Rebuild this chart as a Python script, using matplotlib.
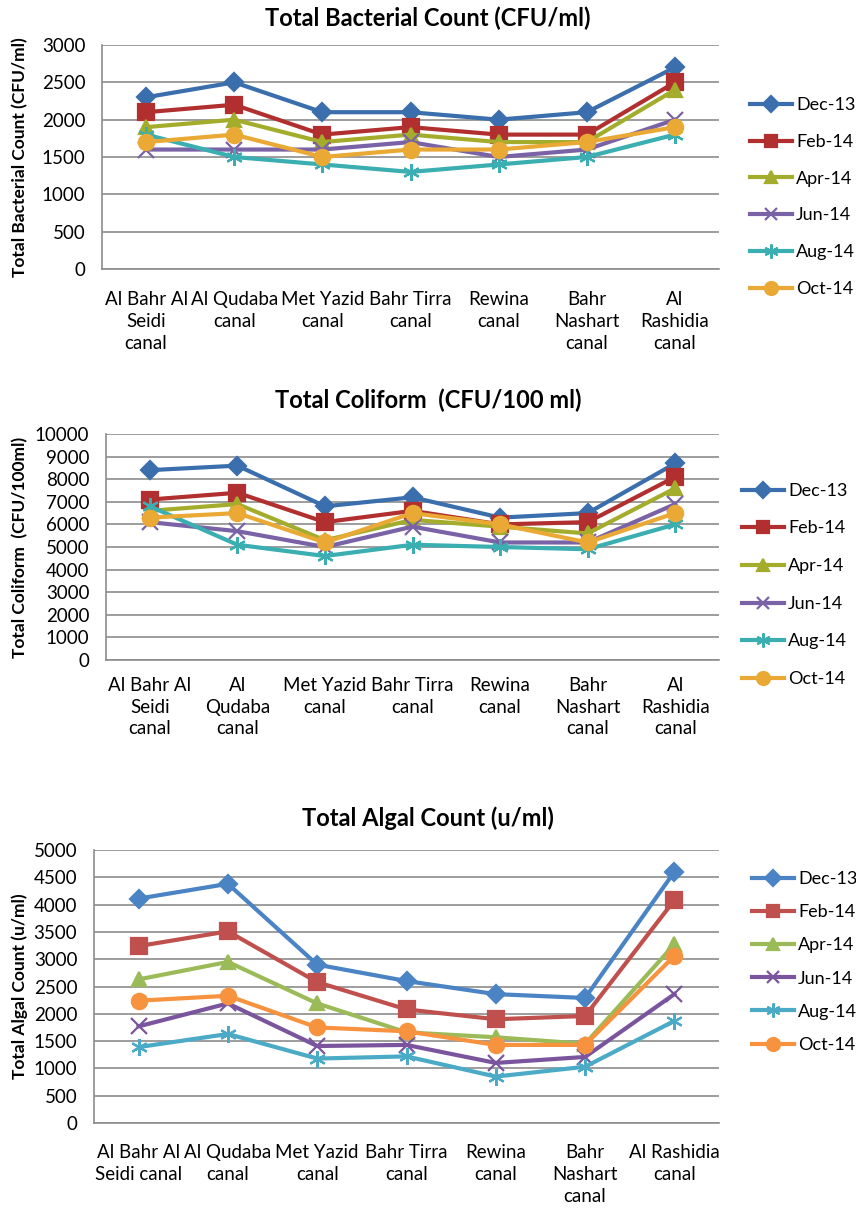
import matplotlib
matplotlib.use("Agg")
import matplotlib.pyplot as plt

plt.rcParams['font.family'] = ['Lato', 'DejaVu Sans']

months = ['Dec-13', 'Feb-14', 'Apr-14', 'Jun-14', 'Aug-14', 'Oct-14']

# canal names, wrapped differently in each chart
canals_bact = ['Al Bahr Al\nSeidi\ncanal', 'Al Qudaba\ncanal', 'Met Yazid\ncanal', 'Bahr Tirra\ncanal',
               'Rewina\ncanal', 'Bahr\nNashart\ncanal', 'Al\nRashidia\ncanal']
canals_coli = ['Al Bahr Al\nSeidi\ncanal', 'Al\nQudaba\ncanal', 'Met Yazid\ncanal', 'Bahr Tirra\ncanal',
               'Rewina\ncanal', 'Bahr\nNashart\ncanal', 'Al\nRashidia\ncanal']
canals_alg = ['Al Bahr Al\nSeidi canal', 'Al Qudaba\ncanal', 'Met Yazid\ncanal', 'Bahr Tirra\ncanal',
              'Rewina\ncanal', 'Bahr\nNashart\ncanal', 'Al Rashidia\ncanal']

# Total bacterial count (CFU/ml)
bact_dec13 = [2300, 2500, 2100, 2100, 2000, 2100, 2700]
bact_feb14 = [2100, 2200, 1800, 1900, 1800, 1800, 2500]
bact_apr14 = [1900, 2000, 1700, 1800, 1700, 1700, 2400]
bact_jun14 = [1600, 1600, 1600, 1700, 1500, 1600, 2000]
bact_aug14 = [1800, 1500, 1400, 1300, 1400, 1500, 1800]
bact_oct14 = [1700, 1800, 1500, 1600, 1600, 1700, 1900]

# Total coliform (CFU/100 ml)
coli_dec13 = [8400, 8600, 6800, 7200, 6300, 6500, 8700]
coli_feb14 = [7100, 7400, 6100, 6600, 6000, 6100, 8100]
coli_apr14 = [6600, 6900, 5300, 6200, 5900, 5600, 7600]
coli_jun14 = [6100, 5700, 5000, 5900, 5200, 5200, 6900]
coli_aug14 = [6800, 5100, 4600, 5100, 5000, 4900, 6000]
coli_oct14 = [6300, 6500, 5200, 6500, 6000, 5200, 6500]

# Total algal count (u/ml)
alg_dec13 = [4110, 4380, 2900, 2600, 2360, 2290, 4600]
alg_feb14 = [3240, 3510, 2580, 2080, 1900, 1960, 4080]
alg_apr14 = [2630, 2950, 2190, 1660, 1570, 1450, 3270]
alg_jun14 = [1770, 2190, 1410, 1430, 1100, 1210, 2360]
alg_aug14 = [1390, 1630, 1180, 1220, 850, 1030, 1870]
alg_oct14 = [2240, 2330, 1750, 1680, 1430, 1430, 3060]

markers = ['D', 's', '^', 'x', (6, 2, 0), 'o']
sizes = [9, 11, 10, 11, 12, 11]
colors_old = ['#3a6ead', '#b1302f', '#a3ad2b', '#7a62a6', '#3aaeb0', '#eaa935']
colors_new = ['#4a84c4', '#c0504d', '#9bbb59', '#7a559e', '#4babc6', '#f7923f']

W, H = 856, 1208
fig = plt.figure(figsize=(W / 100, H / 100), dpi=100)


def add_chart(box, title, title_y, ylabel, names, series, colors, ymax, ystep,
              legend_xy, legend_gap, xpad):
    left, top, right, bottom = box
    ax = fig.add_axes([left / W, 1 - bottom / H, (right - left) / W, (bottom - top) / H])
    xs = range(len(names))
    for vals, lab, m, ms, c in zip(series, months, markers, sizes, colors):
        ax.plot(xs, vals, color=c, lw=3, marker=m, markersize=ms, mew=1.6,
                mfc=c, mec=c, label=lab, clip_on=False)
    ax.set_xlim(-0.5, len(names) - 0.5)
    ax.set_ylim(0, ymax)
    ax.set_yticks(range(0, ymax + 1, ystep))
    ax.set_xticks(list(xs))
    ax.set_xticklabels(names, fontsize=13.5, linespacing=1.35, va='top')
    ax.tick_params(axis='y', labelsize=13.5, length=0, pad=12)
    ax.tick_params(axis='x', length=0, pad=xpad)
    ax.grid(axis='y', color='#8c8c8c', lw=1.2)
    ax.set_axisbelow(True)
    for s in ['top', 'right']:
        ax.spines[s].set_visible(False)
    for s in ['left', 'bottom']:
        ax.spines[s].set_color('#8c8c8c')
        ax.spines[s].set_linewidth(1.2)
    fig.text(428 / W, 1 - title_y / H, title, ha='center', va='center',
             fontsize=17, fontweight='bold')
    fig.text(20 / W, 1 - (top + bottom) / 2 / H, ylabel, rotation=90, ha='center', va='center',
             fontsize=12.5, fontweight='bold')
    lx, ly = legend_xy
    ax.legend(loc='center left', bbox_to_anchor=(lx / W, 1 - ly / H),
              bbox_transform=fig.transFigure, frameon=False, fontsize=13,
              borderaxespad=0, borderpad=0, handlelength=2.3, handletextpad=0.25,
              labelspacing=legend_gap, markerscale=0.85)
    return ax


add_chart((102, 45, 719, 269), 'Total Bacterial Count (CFU/ml)', 18,
          'Total Bacterial Count (CFU/ml)', canals_bact,
          [bact_dec13, bact_feb14, bact_apr14, bact_jun14, bact_aug14, bact_oct14],
          colors_old, 3000, 500, (750, 197), 1.15, 16)

add_chart((106, 434, 719, 660), 'Total Coliform  (CFU/100 ml)', 400,
          'Total Coliform  (CFU/100ml)', canals_coli,
          [coli_dec13, coli_feb14, coli_apr14, coli_jun14, coli_aug14, coli_oct14],
          colors_old, 10000, 1000, (742, 585), 1.2, 12)

add_chart((94, 850, 719, 1123), 'Total Algal Count (u/ml)', 818,
          'Total Algal Count (u/ml)', canals_alg,
          [alg_dec13, alg_feb14, alg_apr14, alg_jun14, alg_aug14, alg_oct14],
          colors_new, 5000, 500, (752, 962), 0.95, 15)

fig.savefig('out.png', dpi=100, facecolor='white')
